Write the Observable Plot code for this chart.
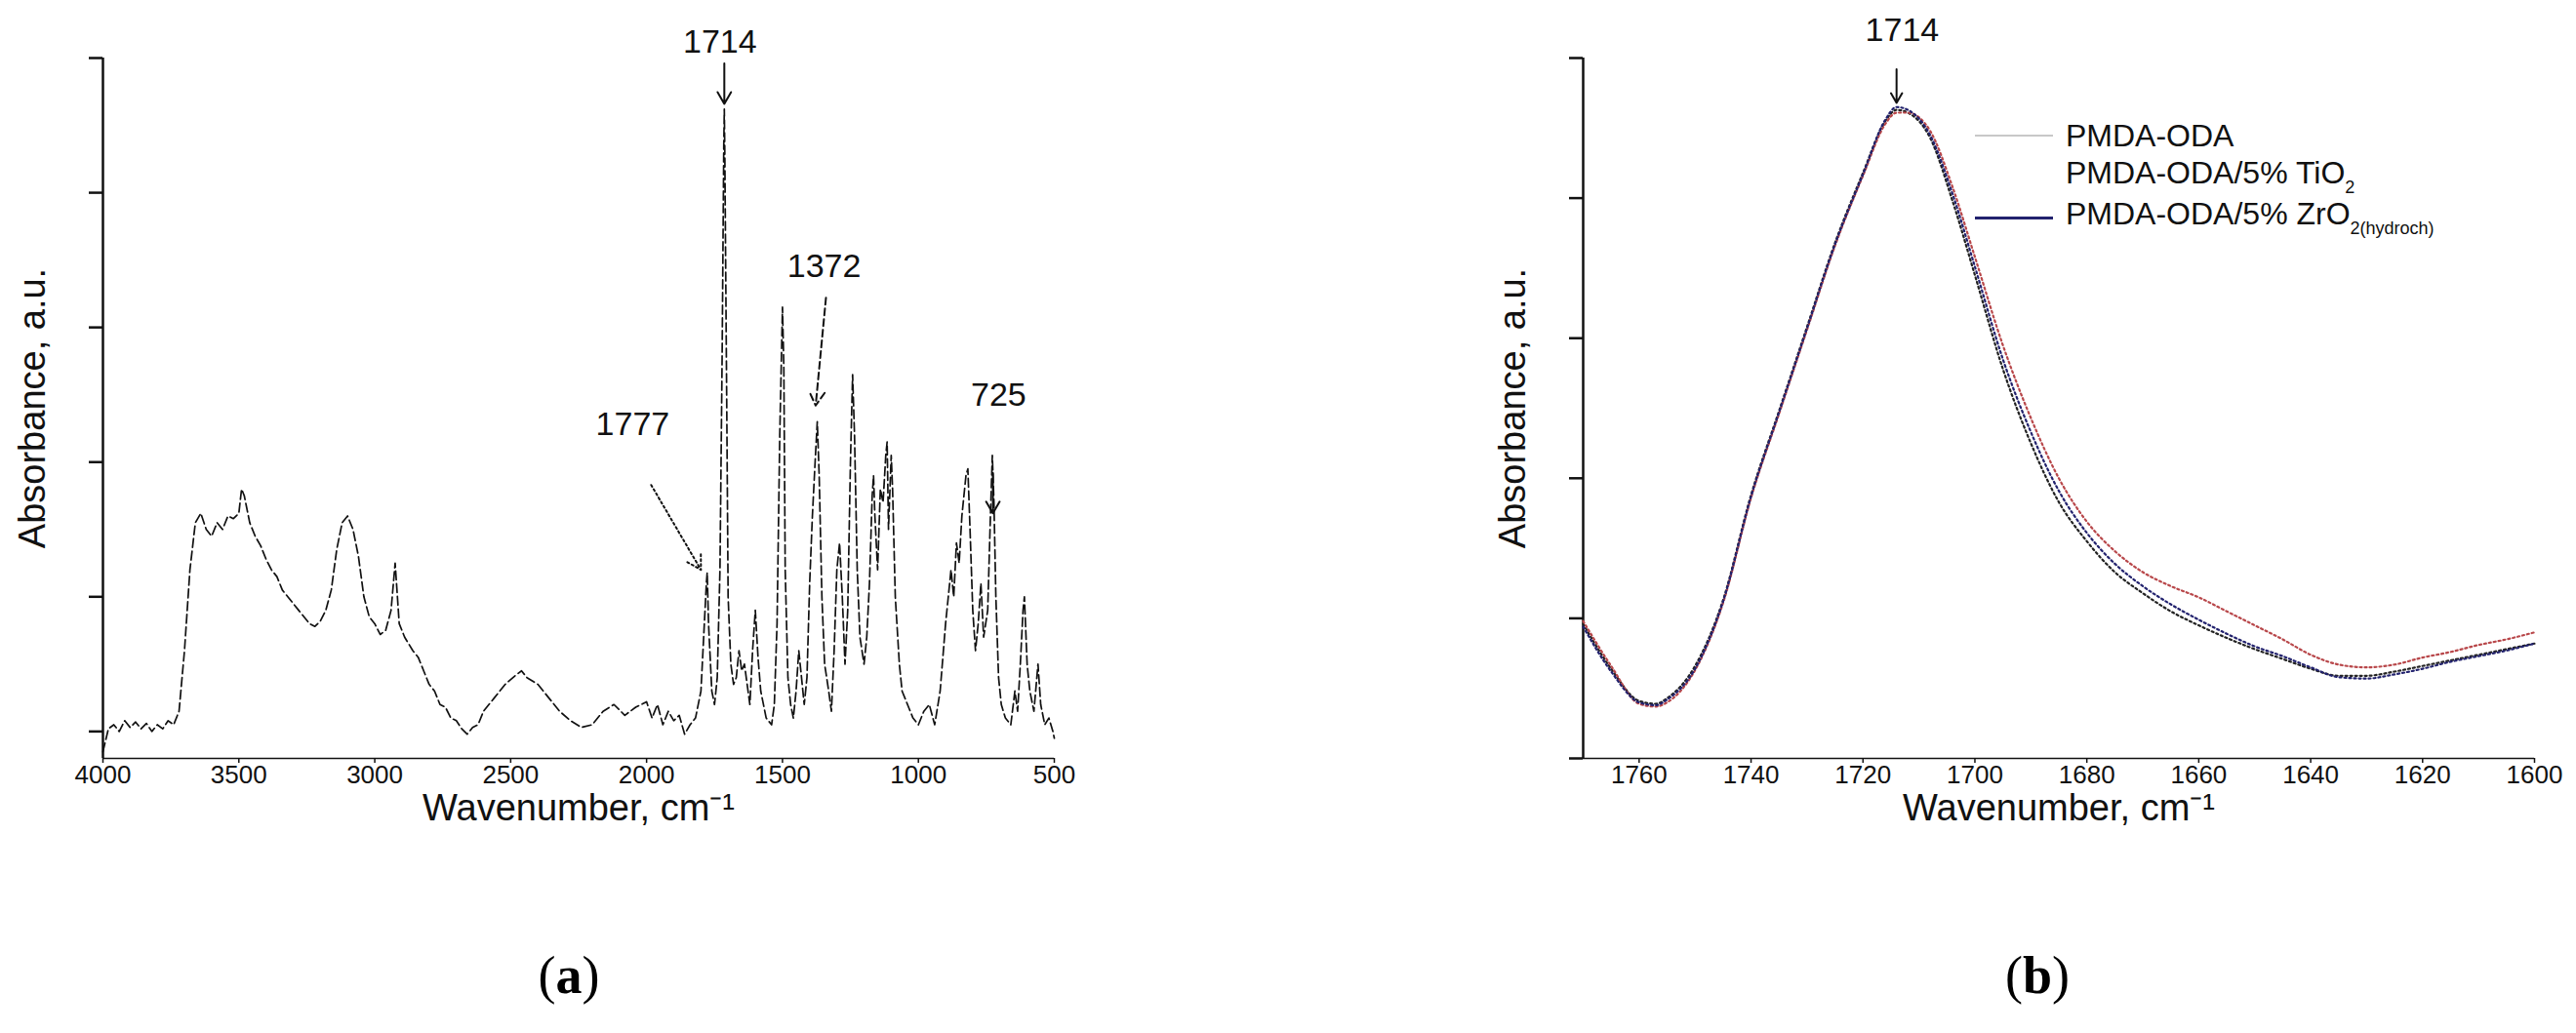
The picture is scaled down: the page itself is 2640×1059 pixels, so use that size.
<!DOCTYPE html>
<html><head><meta charset="utf-8">
<script src="https://cdn.jsdelivr.net/npm/d3@7"></script>
<script src="https://cdn.jsdelivr.net/npm/@observablehq/plot@0.6"></script>
<style>
html,body{margin:0;padding:0;background:#fff;}
#root{position:relative;width:2640px;height:1059px;background:#fff;font-family:"Liberation Sans",Arial,sans-serif;overflow:hidden;}
.panel{position:absolute;top:0;}
.tag{position:absolute;font-family:"Liberation Serif","Times New Roman",serif;font-size:54px;transform:translate(-50%,-50%);color:#000;}
.legend{position:absolute;left:2024px;top:118px;font-size:32px;color:#111;line-height:1;}
.row{height:42px;display:flex;align-items:center;white-space:nowrap;}
.swatch{width:80px;height:0;margin-right:13px;}
.row sub{font-size:18px;vertical-align:-10px;}
</style></head><body><div id="root"></div>
<script>
// ---------- Panel (a): full FTIR spectrum ----------
const specWavenumber = [4000,3980,3960,3940,3920,3900,3880,3860,3840,3820,3800,3780,3760,3740,3720,3700,3680,3660,3640,3620,3600,3580,3560,3540,3520,3500,3490,3480,3460,3440,3420,3400,3380,3360,3340,3320,3300,3280,3260,3240,3220,3200,3180,3160,3140,3120,3100,3080,3060,3040,3020,3000,2980,2960,2940,2925,2910,2890,2860,2840,2820,2800,2780,2760,2740,2720,2700,2680,2660,2640,2620,2600,2560,2520,2480,2460,2440,2400,2360,2320,2280,2240,2200,2160,2120,2080,2040,2000,1980,1960,1940,1920,1900,1880,1860,1840,1820,1800,1790,1780,1777,1772,1760,1750,1740,1730,1722,1716,1714,1712,1705,1700,1690,1680,1670,1660,1650,1640,1630,1620,1610,1600,1590,1580,1560,1540,1530,1520,1510,1500,1495,1490,1480,1470,1460,1450,1440,1420,1410,1400,1390,1380,1372,1365,1355,1345,1330,1320,1310,1300,1290,1280,1270,1260,1250,1242,1235,1225,1215,1200,1190,1180,1170,1165,1160,1150,1140,1130,1120,1115,1110,1100,1095,1085,1070,1060,1040,1020,1000,980,960,940,920,900,880,870,860,850,840,825,818,810,800,790,780,770,760,745,735,728,722,715,705,695,680,660,645,635,625,615,610,600,590,575,560,550,535,520,505,500];
const specAbsorbance = [-0.15,0.02,0.05,0.0,0.08,0.03,0.07,0.02,0.06,0.0,0.05,0.02,0.08,0.05,0.15,0.6,1.2,1.55,1.62,1.5,1.45,1.55,1.5,1.6,1.58,1.62,1.8,1.75,1.55,1.45,1.38,1.28,1.2,1.15,1.05,1.0,0.95,0.9,0.85,0.8,0.78,0.82,0.9,1.05,1.35,1.55,1.6,1.5,1.3,1.0,0.85,0.8,0.72,0.75,0.9,1.25,0.8,0.7,0.6,0.55,0.45,0.35,0.3,0.2,0.18,0.1,0.08,0.02,-0.02,0.03,0.05,0.15,0.25,0.35,0.42,0.45,0.4,0.35,0.25,0.15,0.08,0.03,0.05,0.15,0.2,0.12,0.18,0.22,0.1,0.2,0.05,0.15,0.08,0.12,-0.02,0.05,0.1,0.3,0.7,1.1,1.18,0.8,0.3,0.2,0.4,1.2,2.8,4.35,4.62,4.25,2.4,1.0,0.5,0.35,0.4,0.6,0.45,0.5,0.35,0.2,0.6,0.9,0.55,0.3,0.1,0.05,0.2,0.8,2.2,3.15,2.7,1.2,0.4,0.2,0.1,0.3,0.6,0.2,0.4,1.1,1.6,2.0,2.3,1.9,1.0,0.5,0.3,0.15,0.6,1.2,1.4,1.0,0.5,0.9,2.0,2.65,2.2,1.2,0.7,0.5,0.7,1.1,1.75,1.9,1.6,1.2,1.8,1.7,2.05,2.15,1.5,2.05,1.8,1.0,0.5,0.3,0.2,0.1,0.05,0.15,0.2,0.05,0.3,0.8,1.2,1.0,1.4,1.25,1.6,1.9,1.95,1.5,0.9,0.6,0.8,1.1,0.7,0.9,1.6,2.05,1.7,1.0,0.4,0.2,0.1,0.05,0.3,0.15,0.5,0.9,1.0,0.5,0.3,0.15,0.5,0.2,0.05,0.1,0.0,-0.05];
const xTicksA = [4000,3500,3000,2500,2000,1500,1000,500];
const yTicks = [0,1,2,3,4,5];
const peakLabelsA = ["1714","1372","725","1777"];
const peakLabelPosA = [[1730,5.12],[1347,3.45],[705,2.5],[2051,2.28]];
const peakArrowsA = [[1714,4.96,1714,4.66,"none"],[1340,3.22,1378,2.42,"7,4"],[726,1.92,726,1.62,"none"],[1983,1.83,1800,1.2,"2,3"]];

// ---------- Panel (b): zoom on the 1714 band ----------
const zoomWavenumber = [1770,1765,1760,1757,1755,1750,1745,1740,1735,1730,1725,1720,1716,1714,1712,1708,1704,1700,1695,1690,1685,1680,1675,1670,1665,1660,1655,1650,1645,1640,1635,1630,1625,1620,1615,1610,1605,1600];
const pmdaOda     = [0.96,0.64,0.41,0.39,0.43,0.66,1.13,1.88,2.48,3.08,3.68,4.18,4.55,4.63,4.61,4.43,3.98,3.45,2.78,2.25,1.83,1.55,1.33,1.18,1.05,0.95,0.86,0.78,0.71,0.64,0.59,0.59,0.62,0.66,0.70,0.74,0.78,0.82];
const pmdaOdaTiO2 = [0.98,0.66,0.39,0.37,0.40,0.63,1.11,1.86,2.46,3.06,3.66,4.16,4.53,4.61,4.61,4.48,4.08,3.58,2.95,2.43,2.00,1.69,1.48,1.33,1.23,1.15,1.05,0.95,0.85,0.74,0.67,0.65,0.67,0.72,0.76,0.81,0.85,0.90];
const pmdaOdaZrO2 = [0.94,0.62,0.40,0.38,0.42,0.64,1.12,1.87,2.47,3.07,3.67,4.17,4.56,4.65,4.63,4.45,4.03,3.51,2.85,2.33,1.91,1.61,1.39,1.23,1.10,0.99,0.89,0.80,0.73,0.65,0.58,0.57,0.60,0.64,0.69,0.73,0.77,0.82];
const seriesNames = ["PMDA-ODA","PMDA-ODA/5% TiO2","PMDA-ODA/5% ZrO2(hydroch)"];
const seriesColors = ["#222222","#b8474a","#22226e"];
const xTicksB = [1760,1740,1720,1700,1680,1660,1640,1620,1600];

const font = "'Liberation Sans', Arial, sans-serif";
const root = document.getElementById("root");
const plain = d => String(d);

// Panel a
const specData = specWavenumber.map((w, i) => ({w, a: specAbsorbance[i]}));
const annA = peakLabelsA.map((t, i) => ({t, w: peakLabelPosA[i][0], v: peakLabelPosA[i][1]}));
const arrA = peakArrowsA.map(d => ({x1: d[0], y1: d[1], x2: d[2], y2: d[3], dash: d[4]}));
const plotA = Plot.plot({
  width: 1120, height: 900,
  marginLeft: 105, marginRight: 40, marginTop: 59, marginBottom: 123,
  style: {fontFamily: font, fontSize: "26px", color: "#111", background: "transparent", overflow: "visible"},
  x: {domain: [4000, 500]},
  y: {domain: [-0.2, 5]},
  marks: [
    Plot.axisX({ticks: xTicksA, tickSize: 5, tickPadding: 2, tickFormat: plain, label: null, strokeWidth: 1.5}),
    Plot.axisY({ticks: yTicks, tickSize: 14, tickFormat: () => "", label: null, strokeWidth: 2.5}),
    Plot.ruleX([4000], {strokeWidth: 2.5, stroke: "#111"}),
    Plot.ruleY([-0.2], {strokeWidth: 1.5, stroke: "#111"}),
    Plot.line(specData, {x: "w", y: "a", stroke: "#111", strokeWidth: 1.7, strokeDasharray: "9,4"}),
    ...arrA.map(d => Plot.arrow([d], {x1: "x1", y1: "y1", x2: "x2", y2: "y2", stroke: "#111", strokeWidth: 2, headLength: 12, strokeDasharray: d.dash})),
    Plot.text(annA, {x: "w", y: "v", text: "t", fontSize: 34, fill: "#111"}),
    Plot.text(["Wavenumber, cm⁻¹"], {text: d => d, frameAnchor: "bottom", lineAnchor: "top", dy: 37, fontSize: 38, fill: "#111"}),
    Plot.text(["Absorbance, a.u."], {text: d => d, frameAnchor: "left", textAnchor: "middle", rotate: -90, dx: -72, fontSize: 38, fill: "#111"})
  ]
});
plotA.classList.add("panel");
plotA.style.left = "0px";
root.appendChild(plotA);

// Panel b
const zoomData = [];
[pmdaOda, pmdaOdaTiO2, pmdaOdaZrO2].forEach((vals, s) => vals.forEach((v, i) => zoomData.push({w: zoomWavenumber[i], v, s: seriesNames[s]})));
const plotB = Plot.plot({
  width: 1140, height: 900,
  marginLeft: 122, marginRight: 43, marginTop: 59, marginBottom: 123,
  style: {fontFamily: font, fontSize: "26px", color: "#111", background: "transparent", overflow: "visible"},
  x: {domain: [1770, 1600]},
  y: {domain: [0, 5]},
  color: {domain: seriesNames, range: seriesColors},
  marks: [
    Plot.axisX({ticks: xTicksB, tickSize: 5, tickPadding: 2, tickFormat: plain, label: null, strokeWidth: 1.5}),
    Plot.axisY({ticks: yTicks, tickSize: 14, tickFormat: () => "", label: null, strokeWidth: 2.5}),
    Plot.ruleX([1770], {strokeWidth: 2.5, stroke: "#111"}),
    Plot.ruleY([0], {strokeWidth: 1.5, stroke: "#111"}),
    Plot.line(zoomData, {x: "w", y: "v", z: "s", stroke: "s", strokeWidth: 2.2, strokeDasharray: "2,3", curve: "monotone-x"}),
    Plot.arrow([{x1: 1714, y1: 4.92, x2: 1714, y2: 4.68}], {x1: "x1", y1: "y1", x2: "x2", y2: "y2", stroke: "#111", strokeWidth: 2, headLength: 10}),
    Plot.text([{t: "1714", w: 1713, v: 5.2}], {x: "w", y: "v", text: "t", fontSize: 34, fill: "#111"}),
    Plot.text(["Wavenumber, cm⁻¹"], {text: d => d, frameAnchor: "bottom", lineAnchor: "top", dy: 37, fontSize: 38, fill: "#111"}),
    Plot.text(["Absorbance, a.u."], {text: d => d, frameAnchor: "left", textAnchor: "middle", rotate: -90, dx: -72, fontSize: 38, fill: "#111"})
  ]
});
plotB.classList.add("panel");
plotB.style.left = "1500px";
root.appendChild(plotB);

// Legend (panel b)
const legendSwatch = ["#c8c8c8", "transparent", "#22226e"];
const legend = document.createElement("div");
legend.className = "legend";
const legendHtml = ["PMDA-ODA", "PMDA-ODA/5% TiO<sub>2</sub>", "PMDA-ODA/5% ZrO<sub>2(hydroch)</sub>"];
legendHtml.forEach((h, i) => {
  const row = document.createElement("div");
  row.className = "row";
  row.innerHTML = `<span class="swatch" style="border-top:${i === 2 ? 3 : 2}px solid ${legendSwatch[i]}"></span><span>${h}</span>`;
  legend.appendChild(row);
});
root.appendChild(legend);

// Panel tags
[["a", 583], ["b", 2088]].forEach(([t, x]) => {
  const d = document.createElement("div");
  d.className = "tag";
  d.style.left = x + "px";
  d.style.top = "1000px";
  d.innerHTML = `(<b>${t}</b>)`;
  root.appendChild(d);
});
</script></body></html>
